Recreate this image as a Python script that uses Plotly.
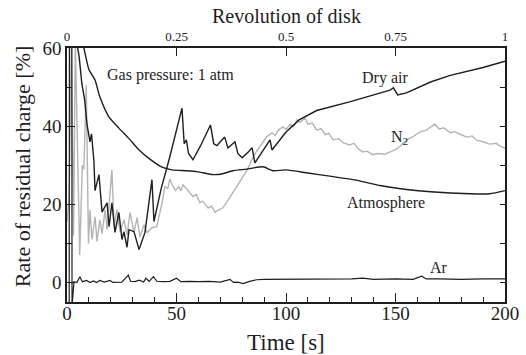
import plotly.graph_objects as go

# ---- data ----
dry_t = [4.2, 5.5, 6.8, 8, 9.1, 10.5, 11.2, 11.8, 12.3, 12.8, 14.6, 16, 18.3, 19.2, 20.5, 21.9, 23.7, 25.1, 26, 27.4,
         28.3, 30.6, 32.9, 35.6, 38.8, 39.7, 43, 46.6, 52.5, 53.5, 54.5, 55.5, 57.5, 61, 65.5, 67, 68.5, 70, 72, 73.5,
         76.7, 78, 80, 83, 84.5, 85.8, 92.7, 93.6, 100, 106, 114, 129, 140, 147.5, 149, 151, 155, 160, 166, 175, 190, 200]
dry_v = [62, 58, 50.8, 47, 40.6, 36, 38, 34, 31, 23.5, 27.6, 18, 20.4, 14.3, 20.4, 12.8, 17.9, 11, 13, 9,
         13.5, 13, 8.4, 12.8, 26.3, 15.6, 24, 31.4, 44.6, 35.5, 36.5, 33, 31.4, 35, 40.3, 35.5, 35, 36, 37.2, 34.4,
         36, 33, 31.9, 33.5, 34.5, 30.6, 36.5, 33.9, 38.5, 41.6, 44, 46.2, 48, 49.2, 49.8, 48, 48.5, 49.7, 51.3, 53, 55, 56.6]

n2_t = [0, 1.0, 2.0, 3.0, 3.8, 5.8, 7.0, 7.7, 8.8, 9.8, 10.5, 11.4, 12.8, 13.7, 15, 16, 17.4, 18.3, 20.5, 21.5,
        22.8, 24.2, 26, 27.4, 28.8, 30.6, 32, 33.3, 35.2, 36.5, 38.8, 41, 43.4, 44.7, 46, 47, 48, 49.5, 51, 52,
        53, 54.8, 56, 57.5, 59, 60.7, 62, 64.4, 66, 67.6, 69, 71.2, 73.5, 75.8, 78, 80.4, 82.5, 85, 87, 89,
        91, 93.6, 95, 96.5, 98.6, 100, 102, 103.5, 105, 106.5, 108.7, 110, 112, 114, 116, 118, 119.5, 121.5, 124, 126,
        129, 131, 133, 135, 137, 139.7, 142, 145, 147.5, 150, 152, 155, 158, 161, 164, 166, 168, 170, 172, 175,
        177, 180, 182.6, 185, 187, 190, 193, 196, 198, 200]
n2_v = [15.5, 22, 62, 12, 62, 7, 30, 29, 50.5, 10, 18.6, 11, 16.8, 10.5, 16, 12.5, 18.6, 13.5, 28.8, 14.3,
        18.6, 13, 16, 12.2, 17.9, 12.8, 16.6, 11.7, 14.8, 12.8, 14, 14.3, 20.4, 24.5, 24, 26.5, 25, 23.5, 24.5, 23.5,
        25, 23.7, 22.8, 22, 22.5, 20.4, 20.8, 19.1, 19.5, 17.9, 18.5, 19.1, 21, 23, 25, 27, 29, 32.1, 34, 35.5,
        37.2, 38.3, 37.6, 39, 39.8, 39.2, 40.5, 39.8, 41.6, 41, 42.1, 40.5, 40.8, 39, 39.4, 37.8, 38.2, 36.5, 36.8, 35.8,
        35.2, 35.6, 34.2, 33.4, 33.6, 32.7, 33, 32.8, 33.4, 34, 34.8, 36.5, 37.3, 38.5, 39, 39.8, 40.5, 39.2, 39.6, 38.3,
        38.6, 37.8, 37.2, 37.5, 36.4, 36, 35.4, 35.6, 34.8, 34.4]

atm_t = [7.3, 8.5, 10, 12.8, 15, 19.2, 23.7, 28, 32.9, 38, 43.4, 48, 54.8, 60, 66.7, 70, 75.8, 82, 89.5, 94,
         100, 110, 120, 132, 143, 155, 166, 184, 193, 200]
atm_v = [61, 58, 54.5, 51.8, 47.5, 42.3, 39.5, 37, 33.9, 31.5, 29.5, 28.8, 28.6, 28.3, 27.6, 27.7, 28.6, 29, 29.6, 28.6,
         28.8, 28, 27.2, 26.2, 24.8, 23.8, 23.2, 22.7, 22.7, 23.5]

ar_t = [1.0, 1.1, 2.2, 2.3, 3.2, 4.5, 5.9, 7, 9, 10.5, 12, 13.5, 15, 17, 19.6, 21, 25, 28, 29, 31,
        33, 35, 36, 37.5, 39.5, 41, 44, 47, 50, 52, 56, 60, 65, 70, 74.4, 76, 78, 80.5, 83, 86.6,
        90, 100, 110, 120, 130, 135, 140, 150, 158, 162, 164, 170, 180, 190, 200]
ar_v = [-6, 62, 62, -6, 0.2, 0, 1.45, 0.2, 0.5, 0, 0.4, 0, 0.5, 0.1, 0.5, 0, 0.1, 1.9, 0.3, 0.2,
        0.6, 0.1, 1.1, 0.3, 1.5, 0.3, 0.2, 0.3, 1.1, 0.2, 0.3, 0.2, 0.3, 0.1, 0.8, 0, 0.1, -0.3, 0.2, 0.7,
        0.8, 0.8, 0.9, 0.8, 0.9, 1.1, 0.8, 0.9, 0.8, 1.6, 0.9, 0.9, 0.8, 0.9, 0.9]

rev_ticks = [0, 0.25, 0.5, 0.75, 1]
rev_labels = ["0", "0.25", "0.5", "0.75", "1"]
x_ticks = [0, 50, 100, 150, 200]
y_ticks = [0, 20, 40, 60]

FONT = "Liberation Serif, Times New Roman, serif"
BLACK = "#1e1e1e"
GRAY = "#b4b4b4"

fig = go.Figure()
fig.add_trace(go.Scatter(x=n2_t, y=n2_v, mode="lines", line=dict(color=GRAY, width=1.4), name="N2"))
fig.add_trace(go.Scatter(x=atm_t, y=atm_v, mode="lines", line=dict(color=BLACK, width=1.4, shape="spline", smoothing=0.6), name="Atmosphere"))
fig.add_trace(go.Scatter(x=dry_t, y=dry_v, mode="lines", line=dict(color=BLACK, width=1.4), name="Dry air"))
fig.add_trace(go.Scatter(x=ar_t, y=ar_v, mode="lines", line=dict(color=BLACK, width=1.2), name="Ar"))
# invisible trace to anchor top / right axes
fig.add_trace(go.Scatter(x=[0, 1], y=[0, 0], xaxis="x2", yaxis="y2", mode="lines",
                         line=dict(width=0), hoverinfo="skip", showlegend=False))

fig.update_layout(
    width=526, height=355,
    margin=dict(l=67, r=21, t=48, b=53, autoexpand=False),
    paper_bgcolor="white", plot_bgcolor="white",
    showlegend=False,
    font=dict(family=FONT, color=BLACK),
    xaxis=dict(range=[0, 200], tickvals=x_ticks, ticks="inside", ticklen=9, tickwidth=1.2, tickcolor=BLACK,
               minor=dict(dtick=10, ticks="inside", ticklen=5, tickwidth=1.2, tickcolor=BLACK),
               showline=True, linecolor=BLACK, linewidth=1.5, showgrid=False, zeroline=False,
               automargin=False, ticklabelstandoff=-7,
               tickfont=dict(size=19, family=FONT, color=BLACK)),
    yaxis=dict(range=[-5, 60], tickvals=y_ticks, ticks="inside", ticklen=8, tickwidth=1.2, tickcolor=BLACK,
               minor=dict(dtick=10, ticks="inside", ticklen=5, tickwidth=1.2, tickcolor=BLACK),
               showline=True, linecolor=BLACK, linewidth=1.5, showgrid=False, zeroline=False,
               automargin=False,
               tickfont=dict(size=19, family=FONT, color=BLACK)),
    xaxis2=dict(overlaying="x", side="top", range=[0, 1], tickvals=rev_ticks, ticktext=rev_labels,
                ticks="inside", ticklen=8, tickwidth=1.2, tickcolor=BLACK,
                showline=True, linecolor=BLACK, linewidth=1.5, showgrid=False, zeroline=False,
                automargin=False,
                tickfont=dict(size=13, family=FONT, color=BLACK)),
    yaxis2=dict(overlaying="y", side="right", range=[-5, 60], tickvals=[0, 10, 20, 30, 40, 50, 60],
                ticks="inside", ticklen=5, tickwidth=1.2, tickcolor=BLACK, showticklabels=False,
                showline=True, linecolor=BLACK, linewidth=1.5, showgrid=False, zeroline=False,
                automargin=False),
)

# axis titles placed as paper annotations
fig.add_annotation(xref="paper", yref="paper", x=0.5, y=-0.158, text="Time [s]", showarrow=False,
                   xanchor="center", yanchor="middle", font=dict(size=23, family=FONT, color=BLACK))
fig.add_annotation(xref="paper", yref="paper", x=-0.1027, y=0.531, text="Rate of residual charge [%]",
                   showarrow=False, textangle=-90, xanchor="center", yanchor="middle",
                   font=dict(size=22, family=FONT, color=BLACK))
fig.add_annotation(xref="paper", yref="paper", x=0.5, y=1.126, text="Revolution of disk", showarrow=False,
                   xanchor="center", yanchor="middle", font=dict(size=20, family=FONT, color=BLACK))

ann_font = dict(size=16, family=FONT, color=BLACK)
fig.add_annotation(x=17.4, y=53, text="Gas pressure: 1 atm", showarrow=False, xanchor="left", font=ann_font)
fig.add_annotation(x=145, y=52.3, text="Dry air", showarrow=False, font=ann_font)
fig.add_annotation(x=152, y=37.2, text="N<sub>2</sub>", showarrow=False, font=ann_font)
fig.add_annotation(x=145.6, y=20.4, text="Atmosphere", showarrow=False, font=ann_font)
fig.add_annotation(x=170, y=3.8, text="Ar", showarrow=False, font=ann_font)

fig.write_html("out.html")
